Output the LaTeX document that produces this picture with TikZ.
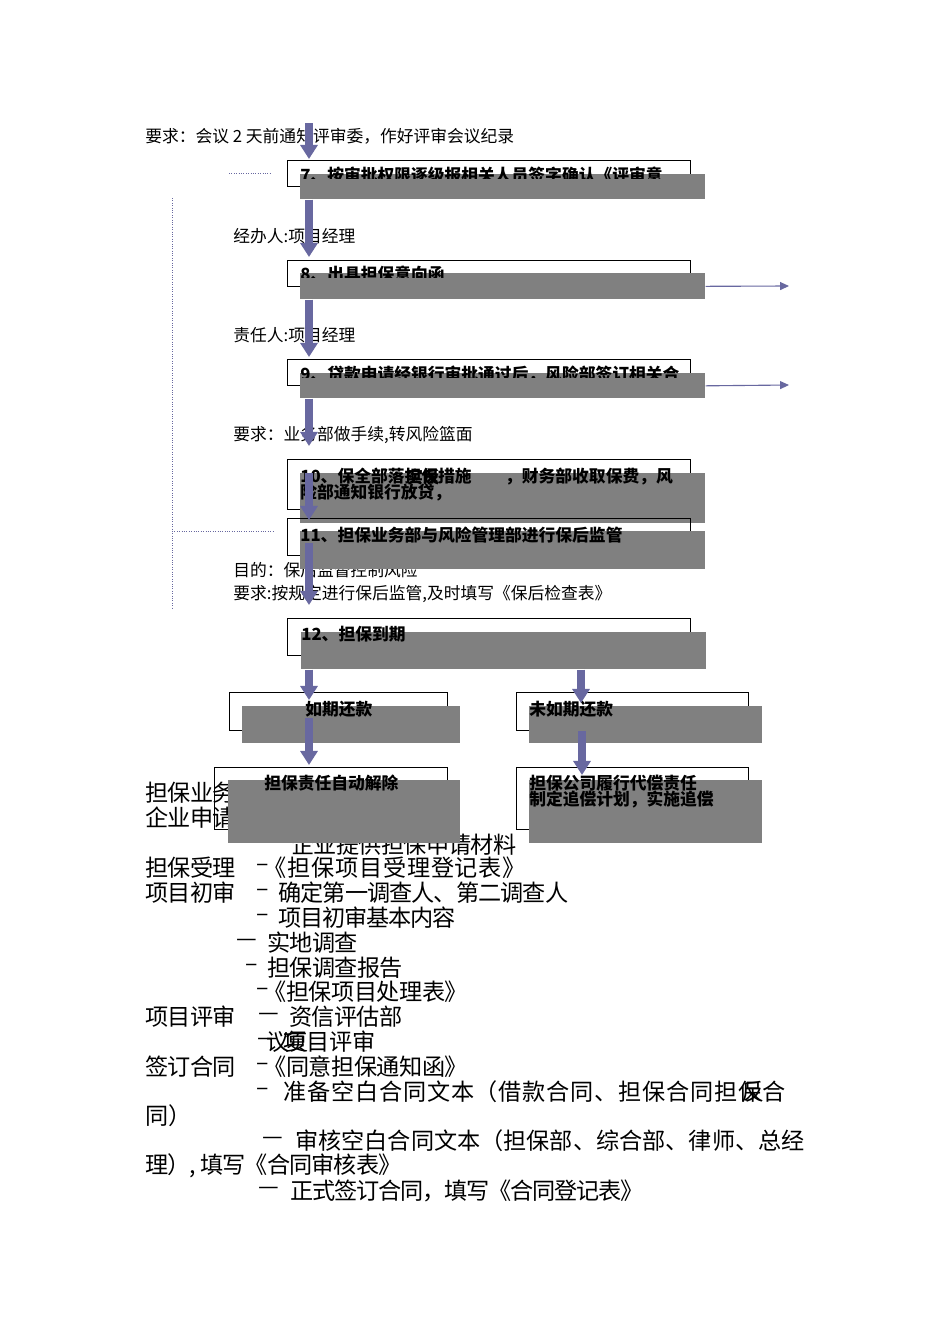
\documentclass[tikz,border=0pt]{standalone}
\usepackage{fontspec}
\setmainfont{Noto Sans CJK SC}
\usetikzlibrary{arrows.meta}

\definecolor{flowblue}{RGB}{104,104,160}
\definecolor{shade}{RGB}{128,128,128}
\newcommand{\pxu}{0.6263pt}

\tikzset{
  box/.style={draw, line width=0.8pt, anchor=north west, inner sep=0pt},
  shadowbox/.style={fill=shade, anchor=north west, inner sep=0pt},
  note/.style={anchor=west, inner sep=0pt, font=\fontsize{10.5}{12}\selectfont},
  boxtxt/.style={anchor=west, inner sep=0pt, font=\fontsize{10.5}{12}\selectfont\bfseries},
  bigtxt/.style={anchor=west, inner sep=0pt, font=\fontsize{14.5}{15}\selectfont\addfontfeature{LetterSpace=#1}},
  bigtxt/.default=0,
  flow/.style={draw=flowblue, line width=5pt, -{Triangle[width=10.6pt,length=8.8pt]}},
  thinflow/.style={draw=flowblue, line width=0.7pt, -{Triangle[width=5pt,length=5.6pt]}},
  dotline/.style={draw=flowblue, densely dotted, line width=0.5pt}
}

\begin{document}
\begin{tikzpicture}[x=\pxu, y=-\pxu]
            % \draw[help lines] (0,0) grid (950,1344);
            \useasboundingbox[fill=white] (0,0) rectangle (950,1344);

            % notes beside the flow
            \node[note] (req1) at (145,136) {要求：会议 2 天前通知评审委，作好评审会议纪录};
            \node[note] (mgr1) at (233,236) {经办人:项目经理};
            \node[note] (mgr2) at (233,335) {责任人:项目经理};
            \node[note] (req2) at (233,435) {要求：业务部做手续,转风险篮面};
            \node[note] (goal) at (233,570) {目的：保后监督控制风险};
            \node[note] (req3) at (233,594) {要求:按规定进行保后监管,及时填写《保后检查表》};

            % outline text underneath
            \node[bigtxt=-3] (h1) at (145,793) {担保业务};
            \node[bigtxt=-3] (h2) at (145,818) {企业申请};
            \node[bigtxt=-3] (l0) at (291,845) {企业提供担保申请材料};
            \node[bigtxt=-3] (l1a) at (145,868) {担保受理};
            \node[bigtxt] (l1d) at (256,868) {–};
            \node[bigtxt=3.5] (l1b) at (263,868) {《担保项目受理登记表》};
            \node[bigtxt=-3] (l2a) at (145,893) {项目初审};
            \node[bigtxt] (l2d) at (256,893) {–};
            \node[bigtxt=-4] (l2b) at (278,893) {确定第一调查人、第二调查人};
            \node[bigtxt] (l3d) at (256,918) {–};
            \node[bigtxt=-5] (l3) at (278,918) {项目初审基本内容};
            \node[bigtxt] (l4d) at (236,943) {—};
            \node[bigtxt=-3] (l4) at (267,943) {实地调查};
            \node[bigtxt] (l5d) at (245,968) {–};
            \node[bigtxt=-3] (l5) at (267,968) {担保调查报告};
            \node[bigtxt] (l6d) at (256,992) {–};
            \node[bigtxt=-2] (l6) at (263,992) {《担保项目处理表》};
            \node[bigtxt=-3] (l7a) at (145,1017) {项目评审};
            \node[bigtxt] (l7d) at (258,1017) {—};
            \node[bigtxt=-3] (l7b) at (289,1017) {资信评估部};
            \node[bigtxt] (l8a) at (257,1042) {—};
            \node[bigtxt] (l8b) at (266,1042) {议};
            \node[bigtxt] (l8c) at (283,1042) {项目评审};
            \node[bigtxt] (l8d) at (285,1042) {复};
            \node[bigtxt=-3] (l9a) at (145,1067) {签订合同};
            \node[bigtxt] (l9d) at (256,1067) {–};
            \node[bigtxt=-2] (l9b) at (263,1067) {《同意担保通知函》};
            \node[bigtxt] (l10a) at (256,1092) {–};
            \node[bigtxt=3.5] (l10b) at (283,1092) {准备空白合同文本（借款合同、担保合同担保合};
            \node[bigtxt] (l10c) at (741,1092) {反};
            \node[bigtxt] (l11) at (145,1116) {同）};
            \node[bigtxt] (l12d) at (262,1141) {—};
            \node[bigtxt] (l12) at (295,1141) {审核空白合同文本（担保部、综合部、律师、总经};
            \node[bigtxt=-4] (l13) at (145,1166) {理）, 填写《合同审核表》};
            \node[bigtxt] (l14d) at (258,1191) {—};
            \node[bigtxt=-5] (l14) at (290,1191) {正式签订合同，填写《合同登记表》};

            % bracket lines on the left
            \draw[dotline] (229,173) -- (272,173);
            \draw[dotline] (172,198) -- (172,608);
            \draw[dotline] (172,531) -- (273,531);

            % steps 7 to 9, text cut off at the bottom
            \node[box, minimum width=403*\pxu, minimum height=26*\pxu] (b7) at (287,160) {};
            \node[shadowbox, minimum width=405*\pxu, minimum height=25*\pxu] (s7) at (300,174) {};
            \begin{scope}
              \clip (287,160) rectangle (705,178);
              \node[boxtxt] (t7) at (300,175) {7、按审批权限逐级报相关人员签字确认《评审意};
            \end{scope}
            \node[box, minimum width=403*\pxu, minimum height=26*\pxu] (b8) at (287,260) {};
            \node[shadowbox, minimum width=405*\pxu, minimum height=26*\pxu] (s8) at (300,273) {};
            \begin{scope}
              \clip (287,260) rectangle (705,277);
              \node[boxtxt] (t8) at (300,274) {8、出具担保意向函};
            \end{scope}
            \node[box, minimum width=403*\pxu, minimum height=26*\pxu] (b9) at (287,359) {};
            \node[shadowbox, minimum width=405*\pxu, minimum height=25*\pxu] (s9) at (300,373) {};
            \begin{scope}
              \clip (287,359) rectangle (705,377);
              \node[boxtxt] (t9) at (300,374) {9、贷款申请经银行审批通过后，风险部签订相关合};
            \end{scope}

            % steps 10 to 12
            \node[box, minimum width=403*\pxu, minimum height=50*\pxu] (b10) at (287,459) {};
            \node[shadowbox, minimum width=405*\pxu, minimum height=50*\pxu] (s10) at (300,473) {};
            \node[boxtxt] (t10a) at (300,477) {10、保全部落担保措施　　，财务部收取保费，风};
            \node[boxtxt] (t10c) at (406,477) {实反};
            \node[boxtxt] (t10b) at (300,493) {险部通知银行放贷，};
            \node[box, minimum width=403*\pxu, minimum height=37*\pxu] (b11) at (287,518) {};
            \node[shadowbox, minimum width=405*\pxu, minimum height=38*\pxu] (s11) at (300,531) {};
            \node[boxtxt] (t11) at (300,535) {11、担保业务部与风险管理部进行保后监管};
            \node[box, minimum width=403*\pxu, minimum height=37*\pxu] (b12) at (287,618) {};
            \node[shadowbox, minimum width=405*\pxu, minimum height=37*\pxu] (s12) at (301,632) {};
            \node[boxtxt] (t12) at (301,634) {12、担保到期};

            % the two outcomes
            \node[box, minimum width=218*\pxu, minimum height=38*\pxu] (ok) at (229,692) {};
            \node[shadowbox, minimum width=218*\pxu, minimum height=37*\pxu] (sok) at (242,706) {};
            \node[boxtxt] (tok) at (305,709) {如期还款};
            \node[box, minimum width=232*\pxu, minimum height=38*\pxu] (late) at (516,692) {};
            \node[shadowbox, minimum width=233*\pxu, minimum height=37*\pxu] (slate) at (529,706) {};
            \node[boxtxt] (tlate) at (529,709) {未如期还款};
            \node[box, minimum width=233*\pxu, minimum height=62*\pxu] (free) at (214,767) {};
            \node[shadowbox, minimum width=232*\pxu, minimum height=63*\pxu] (sfree) at (228,780) {};
            \node[boxtxt] (tfree) at (264,783) {担保责任自动解除};
            \node[box, minimum width=232*\pxu, minimum height=62*\pxu] (pay) at (516,767) {};
            \node[shadowbox, minimum width=233*\pxu, minimum height=63*\pxu] (spay) at (529,780) {};
            \node[boxtxt] (tpay) at (529,783) {担保公司履行代偿责任};
            \node[boxtxt] (tpay2) at (529,799) {制定追偿计划，实施追偿};

            % arrows
            \coordinate (start) at (309,123);
            \coordinate (tip7) at (309,159);
            \coordinate (tip8) at (309,257);
            \coordinate (tip9) at (309,357);
            \coordinate (tip10) at (309,446);
            \coordinate (tip11) at (309,520);
            \coordinate (tip12) at (309,605);
            \coordinate (tipok) at (309,700);
            \coordinate (tiplate) at (581,703);
            \coordinate (tipfree) at (309,765);
            \coordinate (tippay) at (582,775);
            \coordinate (out8) at (789,286);
            \coordinate (out9) at (789,385);
            \draw[flow] (start) -- (tip7);
            \draw[flow] (s7.south -| tip8) -- (tip8);
            \draw[flow] (s8.south -| tip9) -- (tip9);
            \draw[flow] (s9.south -| tip10) -- (tip10);
            \draw[flow] (s10.north -| tip11) -- (tip11);
            \draw[flow] (309,543) -- (tip12);
            \draw[flow] (s12.south -| tipok) -- (tipok);
            \draw[flow] (s12.south -| tiplate) -- (tiplate);
            \draw[flow] (309,718) -- (tipfree);
            \draw[flow] (late.south -| tippay) -- (tippay);
            \draw[thinflow] (s8.east) -- (out8);
            \draw[thinflow] (s9.east) -- (out9);
        \end{tikzpicture}
\end{document}
